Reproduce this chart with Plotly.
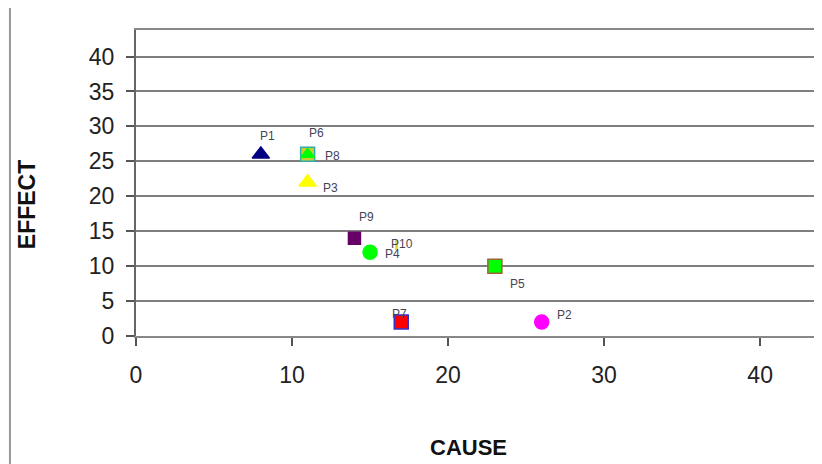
import plotly.graph_objects as go

names = ["P1", "P2", "P3", "P4", "P5", "P6", "P7", "P8", "P9", "P10"]
cause = [8, 26, 11, 15, 23, 11, 17, 11, 14, 16.7]
effect = [26, 2, 22, 12, 10, 26, 2, 26, 14, 13]
symbols = ["triangle-up", "circle", "triangle-up", "circle", "square", "square",
           "square", "triangle-up", "square", "line-ns-open"]
fills = ["#000080", "#FF00FF", "#FFFF00", "#00FF00", "#00FF00", "#CCCC33",
         "#FF0000", "#00FF00", "#660066", "#DDDD33"]
borders = ["#000080", "#FF00FF", "#FFFF00", "#00FF00", "#996633", "#33AAAA",
           "#3333CC", "#00FF00", "#660066", "#DDDD33"]
sizes = [15, 14, 15, 14, 14, 14, 14, 12, 12, 7]
# label offsets in pixels (right, up) from each marker
label_dx = [7, 23, 23, 22, 23, 9, -2, 25, 12, 5]
label_dy = [18, 7, -6, -2, -18, 21, 8, -2, 21, 1]
draw_order = [5, 7, 0, 2, 8, 3, 9, 4, 6, 1]

x_ticks = [0, 10, 20, 30, 40]
y_ticks = [0, 5, 10, 15, 20, 25, 30, 35, 40]

FONT = "Liberation Sans, Arial, sans-serif"

fig = go.Figure()
for i in draw_order:
    fig.add_trace(go.Scatter(
        x=[cause[i]], y=[effect[i]], mode="markers", name=names[i],
        marker=dict(symbol=symbols[i], size=sizes[i], color=fills[i],
                    line=dict(color=borders[i], width=1.5 if i != 9 else 3)),
        showlegend=False, cliponaxis=False,
    ))

annotations = [
    dict(text=names[i], x=cause[i], y=effect[i], xref="x", yref="y",
         xshift=label_dx[i], yshift=label_dy[i], showarrow=False,
         xanchor="center", yanchor="middle",
         font=dict(family=FONT, size=12, color="#444455"))
    for i in range(len(names))
]
annotations += [
    dict(text="<b>CAUSE</b>", xref="paper", yref="paper", x=0.486, y=-0.366,
         xanchor="center", yanchor="middle", showarrow=False,
         font=dict(size=22, color="#111111")),
    dict(text="<b>EFFECT</b>", xref="paper", yref="paper", x=-0.158, y=0.43,
         xanchor="center", yanchor="middle", showarrow=False, textangle=-90,
         font=dict(size=23, color="#111111")),
]

# page body adds an 8px margin, so the figure is 8px smaller than the window
fig.update_layout(
    width=814, height=456,
    margin=dict(l=128, r=1, t=22, b=128, autoexpand=False),
    paper_bgcolor="white", plot_bgcolor="white",
    font=dict(family=FONT, color="#222222"),
    showlegend=False,
    annotations=annotations,
    shapes=[
        dict(type="line", xref="paper", yref="paper", x0=-0.184, x1=-0.184,
             y0=-0.45, y1=1.1, line=dict(color="#999999", width=2)),
    ],
)
fig.update_xaxes(
    range=[0, 43.9], tickvals=x_ticks, ticks="outside", ticklen=8, tickwidth=1.5,
    tickcolor="#555555", showgrid=False, zeroline=False, automargin=False,
    showline=True, linecolor="#888888", linewidth=2, mirror=True,
    tickfont=dict(size=23, color="#222222"), ticklabelstandoff=9,
)
fig.update_yaxes(
    range=[0, 43.8], tickvals=y_ticks, ticks="outside", ticklen=8, tickwidth=1.5,
    tickcolor="#555555", showgrid=True, gridcolor="#7f7f7f", gridwidth=2,
    zeroline=False, showline=True, linecolor="#666666", linewidth=2, mirror=True,
    automargin=False,
    tickfont=dict(size=23, color="#222222"), ticklabelstandoff=7,
)

fig.write_html("out.html")
